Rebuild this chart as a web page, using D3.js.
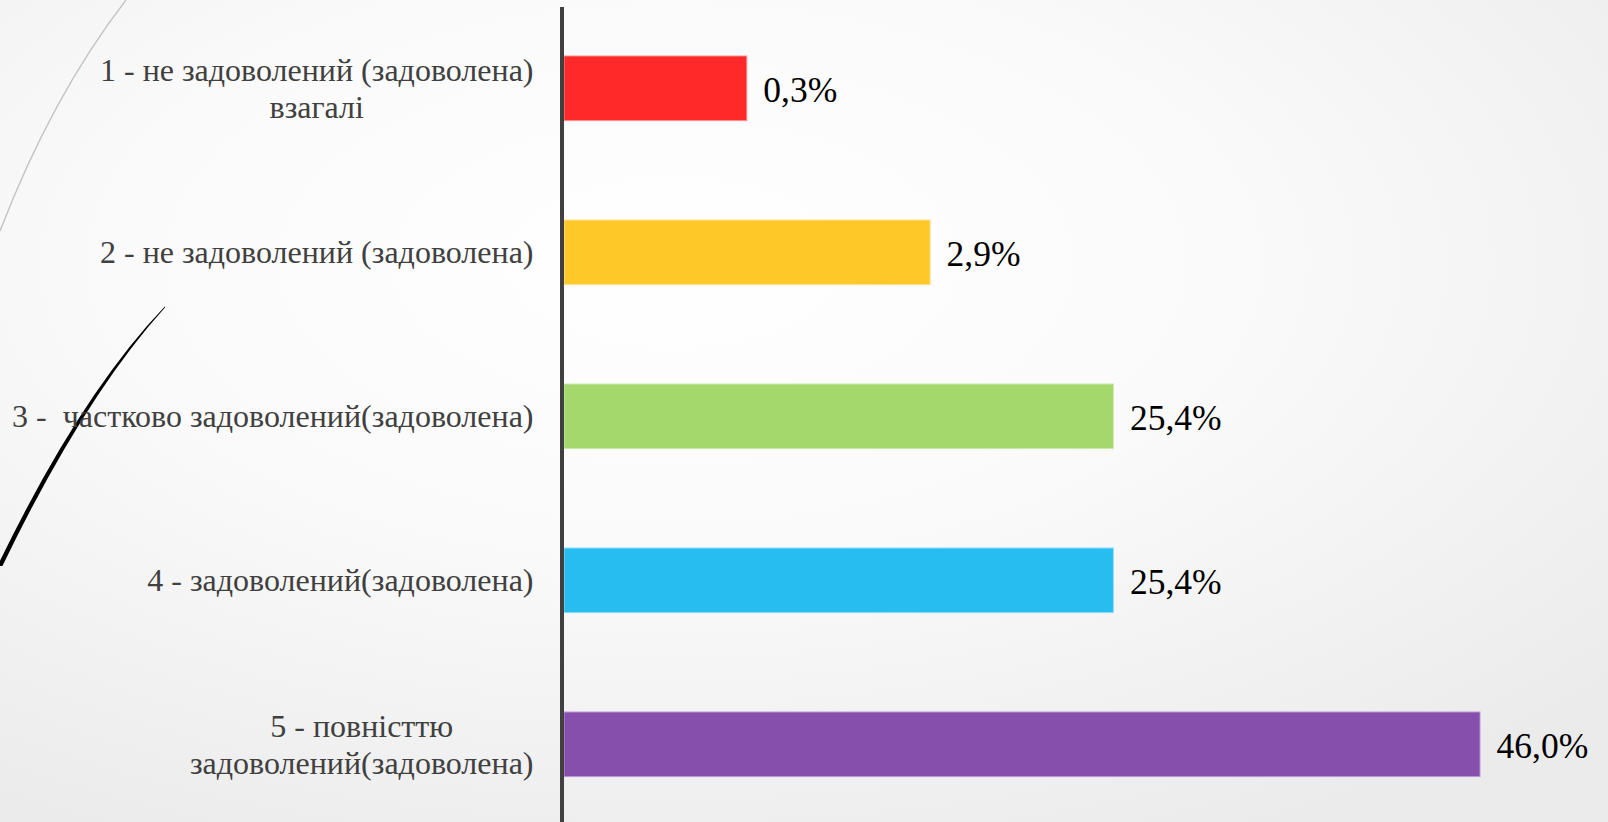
<!DOCTYPE html>
<html><head><meta charset="utf-8">
<script src="https://cdn.jsdelivr.net/npm/d3@7"></script>
<style>html,body{margin:0;padding:0;overflow:hidden;background:#f7f7f7}</style>
</head><body><svg id="c" width="1608" height="822"></svg>
<script>
// ---- data ----
const categories = [
  "1 - не задоволений (задоволена)\nвзагалі",
  "2 - не задоволений (задоволена)",
  "3 -  частково задоволений(задоволена)",
  "4 - задоволений(задоволена)",
  "5 - повністтю\nзадоволений(задоволена)"
];
// bar lengths as drawn in the picture (relative units)
const barValues = [1, 2, 3, 3, 5];
// data labels printed next to the bars
const valueLabels = ["0,3%", "2,9%", "25,4%", "25,4%", "46,0%"];
const barColors = ["#ff2929", "#ffc829", "#a4d76c", "#27bdf1", "#854fab"];
const barStrokes = ["#ff8c8c", "#ffe08c", "#cce9ab", "#90dbf7", "#bb95d8"];

const W = 1608, H = 822;
const svg = d3.select("#c");

// pick an installed Times-like serif font
function pickFont(cands) {
  const probe = svg.append("text").attr("font-size", 40).text("задоволений 0,3% Wmi");
  probe.style("font-family", "monospace");
  const base = probe.node().getComputedTextLength();
  let found = null;
  for (const f of cands) {
    probe.style("font-family", `"${f}", monospace`);
    if (Math.abs(probe.node().getComputedTextLength() - base) > 0.5) { found = f; break; }
  }
  probe.remove();
  return found ? `"${found}", serif` : "serif";
}
const serifFont = pickFont(["Liberation Serif", "Tinos", "Times New Roman", "Nimbus Roman", "DejaVu Serif", "Noto Serif"]);

// background
const defs = svg.append("defs");
const rg = defs.append("radialGradient").attr("id", "bg")
  .attr("cx", "0.42").attr("cy", "0.32").attr("r", "0.78");
rg.append("stop").attr("offset", "0").attr("stop-color", "#ffffff");
rg.append("stop").attr("offset", "0.45").attr("stop-color", "#fafafa");
rg.append("stop").attr("offset", "1").attr("stop-color", "#ebebeb");
svg.append("rect").attr("width", W).attr("height", H).attr("fill", "url(#bg)");

// decorative theme curves
svg.append("path").attr("d", "M126,0 Q52,96 0,231")
  .attr("fill", "none").attr("stroke", "#c4c4c4").attr("stroke-width", 1.4);
svg.append("path").attr("d", "M164.8,306.6 Q80,395 -2.5,566 L2.4,566 Q84,397 165.2,307.2 Z")
  .attr("fill", "#000");

// scales
const x = d3.scaleLinear().domain([0, 5]).range([564, 1480.5]);
const y = d3.scaleBand().domain(d3.range(categories.length))
  .range([-42.9, 875.5]).padding(0.6);
const bw = y.bandwidth();

// bars
svg.append("g").selectAll("rect").data(barValues).join("rect")
  .attr("x", x(0))
  .attr("y", (d, i) => y(i) + 0.5)
  .attr("width", d => x(d) - x(0) - 0.5)
  .attr("height", bw - 1)
  .attr("fill", (d, i) => barColors[i])
  .attr("stroke", (d, i) => barStrokes[i])
  .attr("stroke-width", 1);

// vertical axis line
svg.append("line").attr("x1", 562).attr("x2", 562).attr("y1", 7).attr("y2", H)
  .attr("stroke", "#404040").attr("stroke-width", 4);

// category labels
const catFont = 32, lineH = 36.6, labelRight = 533.5;
categories.forEach((c, i) => {
  const lines = c.split("\n");
  const cy = y(i) + bw / 2;
  const t = svg.append("text")
    .style("font-family", serifFont)
    .attr("font-size", catFont)
    .attr("fill", "#404040")
    .attr("text-anchor", "middle")
    .style("white-space", "pre");
  const spans = lines.map((ln, k) => t.append("tspan")
    .attr("y", cy + 11 + (k - (lines.length - 1) / 2) * lineH)
    .text(ln));
  const maxW = d3.max(spans, s => s.node().getComputedTextLength());
  spans.forEach(s => s.attr("x", labelRight - maxW / 2));
});

// value labels
svg.append("g").selectAll("text").data(barValues).join("text")
  .attr("x", d => x(d) + 16)
  .attr("y", (d, i) => y(i) + bw / 2 + 14)
  .style("font-family", serifFont)
  .attr("font-size", 35.5)
  .attr("fill", "#000")
  .text((d, i) => valueLabels[i]);
</script>
</body></html>
